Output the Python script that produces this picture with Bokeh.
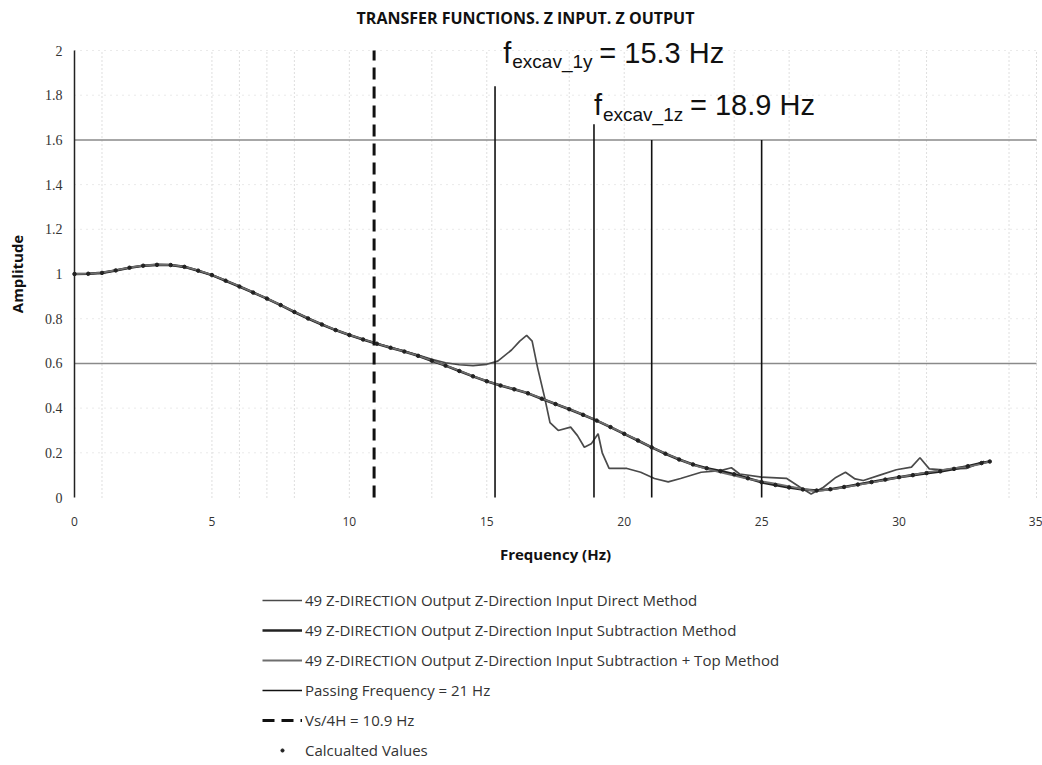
from bokeh.plotting import figure
from bokeh.models import FixedTicker, Label, Legend, LegendItem, Range1d
from bokeh.embed import file_html
from bokeh.resources import INLINE

# ---- data -------------------------------------------------------------
freq = [0.0, 0.5, 1.0, 1.5, 2.0, 2.5, 3.0, 3.5, 4.0, 4.5,
        5.0, 5.5, 6.0, 6.5, 7.0, 7.5, 8.0, 8.5, 9.0, 9.5,
        10.0, 10.5, 11.0, 11.5, 12.0, 12.5, 13.0, 13.5, 14.0, 14.5,
        15.0, 15.5, 16.0, 16.5, 17.0, 17.5, 18.0, 18.5, 19.0, 19.5,
        20.0, 20.5, 21.0, 21.5, 22.0, 22.5, 23.0, 23.5, 24.0, 24.5,
        25.0, 25.5, 26.0, 26.5, 27.0, 27.5, 28.0, 28.5, 29.0, 29.5,
        30.0, 30.5, 31.0, 31.5, 32.0, 32.5, 33.0, 33.3]

amp_subtraction = [1.000, 1.001, 1.005, 1.016, 1.028, 1.037, 1.041, 1.040, 1.032, 1.015,
                   0.995, 0.970, 0.944, 0.917, 0.890, 0.861, 0.830, 0.801, 0.774, 0.749,
                   0.727, 0.707, 0.688, 0.670, 0.653, 0.634, 0.612, 0.590, 0.566, 0.542,
                   0.520, 0.501, 0.484, 0.466, 0.442, 0.418, 0.395, 0.370, 0.344, 0.315,
                   0.285, 0.255, 0.224, 0.196, 0.170, 0.148, 0.131, 0.118, 0.104, 0.086,
                   0.068, 0.056, 0.045, 0.036, 0.031, 0.037, 0.047, 0.058, 0.069, 0.080,
                   0.091, 0.100, 0.109, 0.117, 0.128, 0.140, 0.154, 0.161]

amp_subtraction_top = [1.000, 1.002, 1.006, 1.017, 1.029, 1.038, 1.042, 1.041, 1.033, 1.016,
                       0.996, 0.971, 0.945, 0.918, 0.891, 0.862, 0.831, 0.802, 0.775, 0.750,
                       0.728, 0.708, 0.689, 0.671, 0.654, 0.635, 0.613, 0.591, 0.567, 0.543,
                       0.521, 0.502, 0.485, 0.467, 0.443, 0.419, 0.396, 0.371, 0.345, 0.316,
                       0.286, 0.256, 0.225, 0.197, 0.171, 0.146, 0.128, 0.112, 0.098, 0.083,
                       0.072, 0.062, 0.050, 0.038, 0.029, 0.035, 0.045, 0.056, 0.067, 0.079,
                       0.090, 0.101, 0.112, 0.121, 0.131, 0.137, 0.150, 0.163]

amp_calculated = [1.000, 1.001, 1.005, 1.016, 1.028, 1.037, 1.041, 1.040, 1.032, 1.015,
                  0.995, 0.970, 0.944, 0.917, 0.890, 0.861, 0.830, 0.801, 0.774, 0.749,
                  0.727, 0.707, 0.688, 0.670, 0.653, 0.634, 0.612, 0.590, 0.566, 0.542,
                  0.520, 0.501, 0.484, 0.466, 0.442, 0.418, 0.395, 0.370, 0.344, 0.315,
                  0.285, 0.255, 0.224, 0.196, 0.170, 0.148, 0.131, 0.118, 0.104, 0.086,
                  0.068, 0.056, 0.045, 0.036, 0.031, 0.037, 0.047, 0.058, 0.069, 0.080,
                  0.091, 0.100, 0.109, 0.117, 0.128, 0.140, 0.154, 0.161]

freq_direct = [0.0, 0.5, 1.0, 1.5, 2.0, 2.5, 3.0, 3.5, 4.0, 4.5,
               5.0, 5.5, 6.0, 6.5, 7.0, 7.5, 8.0, 8.5, 9.0, 9.5,
               10.0, 10.5, 11.0, 11.5, 12.0, 12.5, 13.0, 13.5, 14.0, 14.5,
               15.0, 15.4, 15.9, 16.2, 16.45, 16.65, 16.85, 17.1, 17.3, 17.6,
               18.05, 18.3, 18.55, 18.8, 19.05, 19.2, 19.45, 20.1, 20.6, 21.1,
               21.6, 22.05, 22.8, 23.5, 23.9, 24.2, 25.0, 25.9, 26.4, 26.8,
               27.25, 27.7, 28.05, 28.4, 28.7, 29.3, 29.9, 30.45, 30.76, 31.1,
               31.6, 32.0, 32.45, 32.8, 33.1]

amp_direct = [1.000, 1.001, 1.005, 1.016, 1.028, 1.037, 1.041, 1.040, 1.032, 1.015,
              0.995, 0.970, 0.944, 0.917, 0.890, 0.861, 0.830, 0.801, 0.774, 0.749,
              0.727, 0.707, 0.689, 0.672, 0.655, 0.637, 0.618, 0.603, 0.594, 0.590,
              0.596, 0.610, 0.660, 0.700, 0.725, 0.700, 0.580, 0.450, 0.335, 0.300,
              0.315, 0.277, 0.225, 0.240, 0.285, 0.200, 0.130, 0.130, 0.113, 0.085,
              0.070, 0.085, 0.113, 0.120, 0.133, 0.105, 0.091, 0.086, 0.046, 0.016,
              0.046, 0.090, 0.113, 0.083, 0.076, 0.100, 0.124, 0.136, 0.178, 0.128,
              0.124, 0.128, 0.130, 0.148, 0.162]

# vertical reference lines (frequency, top of line)
excav_freqs = [15.3, 18.9]
excav_tops = [1.84, 1.67]
excav_values = ["15.3 Hz", "18.9 Hz"]
excav_subscripts = ["excav_1y", "excav_1z"]
other_freqs = [25.0]
other_tops = [1.6]
passing_freq = [21.0]
passing_top = [1.6]
vs4h_freq = [10.9]
vs4h_top = [2.0]

x_ticks = [0, 5, 10, 15, 20, 25, 30, 35]
y_ticks = [0, 0.2, 0.4, 0.6, 0.8, 1, 1.2, 1.4, 1.6, 1.8, 2]
y_tick_labels = ["0", "0.2", "0.4", "0.6", "0.8", "1", "1.2", "1.4", "1.6", "1.8", "2"]

series_names = [
    "49 Z-DIRECTION Output Z-Direction Input Direct Method",
    "49 Z-DIRECTION Output Z-Direction Input Subtraction Method",
    "49 Z-DIRECTION Output Z-Direction Input Subtraction + Top Method",
    "Passing Frequency = 21 Hz",
    "Vs/4H = 10.9 Hz",
    "Calcualted Values",
]

# ---- layout helpers (pixel geometry of the chart area) ---------------
W, H = 1042, 765
AX_LEFT, AX_RIGHT, AX_TOP, AX_BOTTOM = 74, 1036, 50, 497
X_MIN, X_MAX, Y_MIN, Y_MAX = 0, 35, 0, 2
kx = (AX_RIGHT - AX_LEFT) / (X_MAX - X_MIN)
ky = (AX_BOTTOM - AX_TOP) / (Y_MAX - Y_MIN)

# the frame spans the whole canvas; axes sit at fixed locations inside it
p = figure(width=W, height=H, output_backend="svg", toolbar_location=None,
           x_range=Range1d(X_MIN - AX_LEFT / kx, X_MAX + (W - AX_RIGHT) / kx),
           y_range=Range1d(Y_MIN - (H - AX_BOTTOM) / ky, Y_MAX + AX_TOP / ky),
           min_border=0)
p.outline_line_color = None
p.background_fill_color = "white"
p.border_fill_color = "white"
p.xgrid.visible = False
p.ygrid.visible = False

# faint dotted grid inside the chart area
grid_x = [1, 5, 6, 7, 8, 10, 13, 15, 18, 20, 24, 26, 30, 31, 34, 35]
grid_y = [0.2, 0.4, 0.8, 1.0, 1.2, 1.4, 1.8, 2.0]
p.segment(x0=grid_x, y0=[Y_MIN] * len(grid_x), x1=grid_x, y1=[Y_MAX] * len(grid_x),
          line_color="#bdbdbd", line_width=1, line_dash="1 3")
p.segment(x0=[X_MIN] * len(grid_y), y0=grid_y, x1=[X_MAX] * len(grid_y), y1=grid_y,
          line_color="#d4d4d4", line_width=1, line_dash="1 5")
major_y = [0.6, 1.6]
p.segment(x0=[X_MIN] * 2, y0=major_y, x1=[X_MAX] * 2, y1=major_y,
          line_color="#8a8a8a", line_width=1.5)

# axes
p.xaxis.fixed_location = 0
p.xaxis.bounds = (X_MIN, X_MAX)
p.xaxis.ticker = FixedTicker(ticks=x_ticks)
p.xaxis.axis_line_color = None
p.xaxis.major_tick_line_color = None
p.xaxis.major_tick_out = 0
p.xaxis.major_tick_in = 0
p.xaxis.minor_tick_line_color = None
p.xaxis.major_label_standoff = 19
p.xaxis.major_label_text_font = "Open Sans"
p.xaxis.major_label_text_font_size = "12px"
p.xaxis.major_label_text_color = "#333333"
p.xaxis.axis_label = "Frequency (Hz)"
p.xaxis.axis_label_text_font = "Open Sans"
p.xaxis.axis_label_text_font_style = "bold"
p.xaxis.axis_label_text_font_size = "15px"
p.xaxis.axis_label_text_color = "#111111"
p.xaxis.axis_label_standoff = 15

p.yaxis.fixed_location = 0
p.yaxis.bounds = (Y_MIN, Y_MAX)
p.yaxis.ticker = FixedTicker(ticks=y_ticks)
p.yaxis.major_label_overrides = dict(zip(y_ticks, y_tick_labels))
p.yaxis.axis_line_color = "#222222"
p.yaxis.axis_line_width = 1.5
p.yaxis.major_tick_line_color = None
p.yaxis.major_tick_out = 0
p.yaxis.major_tick_in = 0
p.yaxis.minor_tick_line_color = None
p.yaxis.major_label_standoff = 12
p.yaxis.major_label_text_font = "Liberation Serif"
p.yaxis.major_label_text_font_size = "14px"
p.yaxis.major_label_text_color = "#333333"
p.yaxis.axis_label = "Amplitude"
p.yaxis.axis_label_text_font = "Open Sans"
p.yaxis.axis_label_text_font_style = "bold"
p.yaxis.axis_label_text_font_size = "15px"
p.yaxis.axis_label_text_color = "#111111"
p.yaxis.axis_label_standoff = 15

# ---- curves -----------------------------------------------------------
r_direct = p.line(freq_direct, amp_direct, line_color="#4a4a4a", line_width=1.7)
r_sub = p.line(freq, amp_subtraction, line_color="#222222", line_width=2.6)
r_top = p.line(freq, amp_subtraction_top, line_color="#6e6e6e", line_width=1.8)

# vertical marker lines
p.segment(x0=excav_freqs, y0=[0] * len(excav_freqs), x1=excav_freqs, y1=excav_tops,
          line_color="#111111", line_width=1.6)
p.segment(x0=other_freqs, y0=[0] * len(other_freqs), x1=other_freqs, y1=other_tops,
          line_color="#111111", line_width=1.6)
r_pass = p.segment(x0=passing_freq, y0=[0], x1=passing_freq, y1=passing_top,
                   line_color="#111111", line_width=1.6)
r_vs = p.segment(x0=vs4h_freq, y0=[0], x1=vs4h_freq, y1=vs4h_top,
                 line_color="#111111", line_width=3, line_dash="12 7")

r_calc = p.scatter(freq, amp_calculated, size=3.5, marker="circle",
                   fill_color="#222222", line_color="#222222")

# excavation frequency annotations: f, subscript, value
excav_label_anchor = [(15.6, 1.99), (18.9, 1.755)]
for (ax, ay), sub, val in zip(excav_label_anchor, excav_subscripts, excav_values):
    common = dict(x=ax, y=ay, text_baseline="alphabetic", text_align="left",
                  text_font="Liberation Sans", text_color="#111111")
    p.add_layout(Label(text="f", text_font_size="29px", **common))
    p.add_layout(Label(text=sub, text_font_size="19px", x_offset=9, y_offset=-9, **common))
    p.add_layout(Label(text="= " + val, text_font_size="29px", x_offset=96, **common))

# chart title
p.add_layout(Label(x=X_MIN + (525 - AX_LEFT) / kx, y=Y_MAX + (AX_TOP - 17) / ky,
                   text="TRANSFER FUNCTIONS. Z INPUT. Z OUTPUT",
                   text_align="center", text_baseline="middle", text_font="Open Sans",
                   text_font_style="bold", text_font_size="16px", text_color="#111111"))

# legend under the chart
renderers = [r_direct, r_sub, r_top, r_pass, r_vs, r_calc]
legend = Legend(items=[LegendItem(label=n, renderers=[r]) for n, r in zip(series_names, renderers)],
                location=(262, 5), orientation="vertical",
                glyph_width=40, glyph_height=8, label_height=20, label_standoff=3,
                spacing=10, padding=0, margin=0, border_line_color=None,
                background_fill_alpha=0,
                label_text_font="Open Sans", label_text_font_size="15px",
                label_text_color="#333333")
p.add_layout(legend)

open("out.html", "w").write(file_html(p, INLINE))
